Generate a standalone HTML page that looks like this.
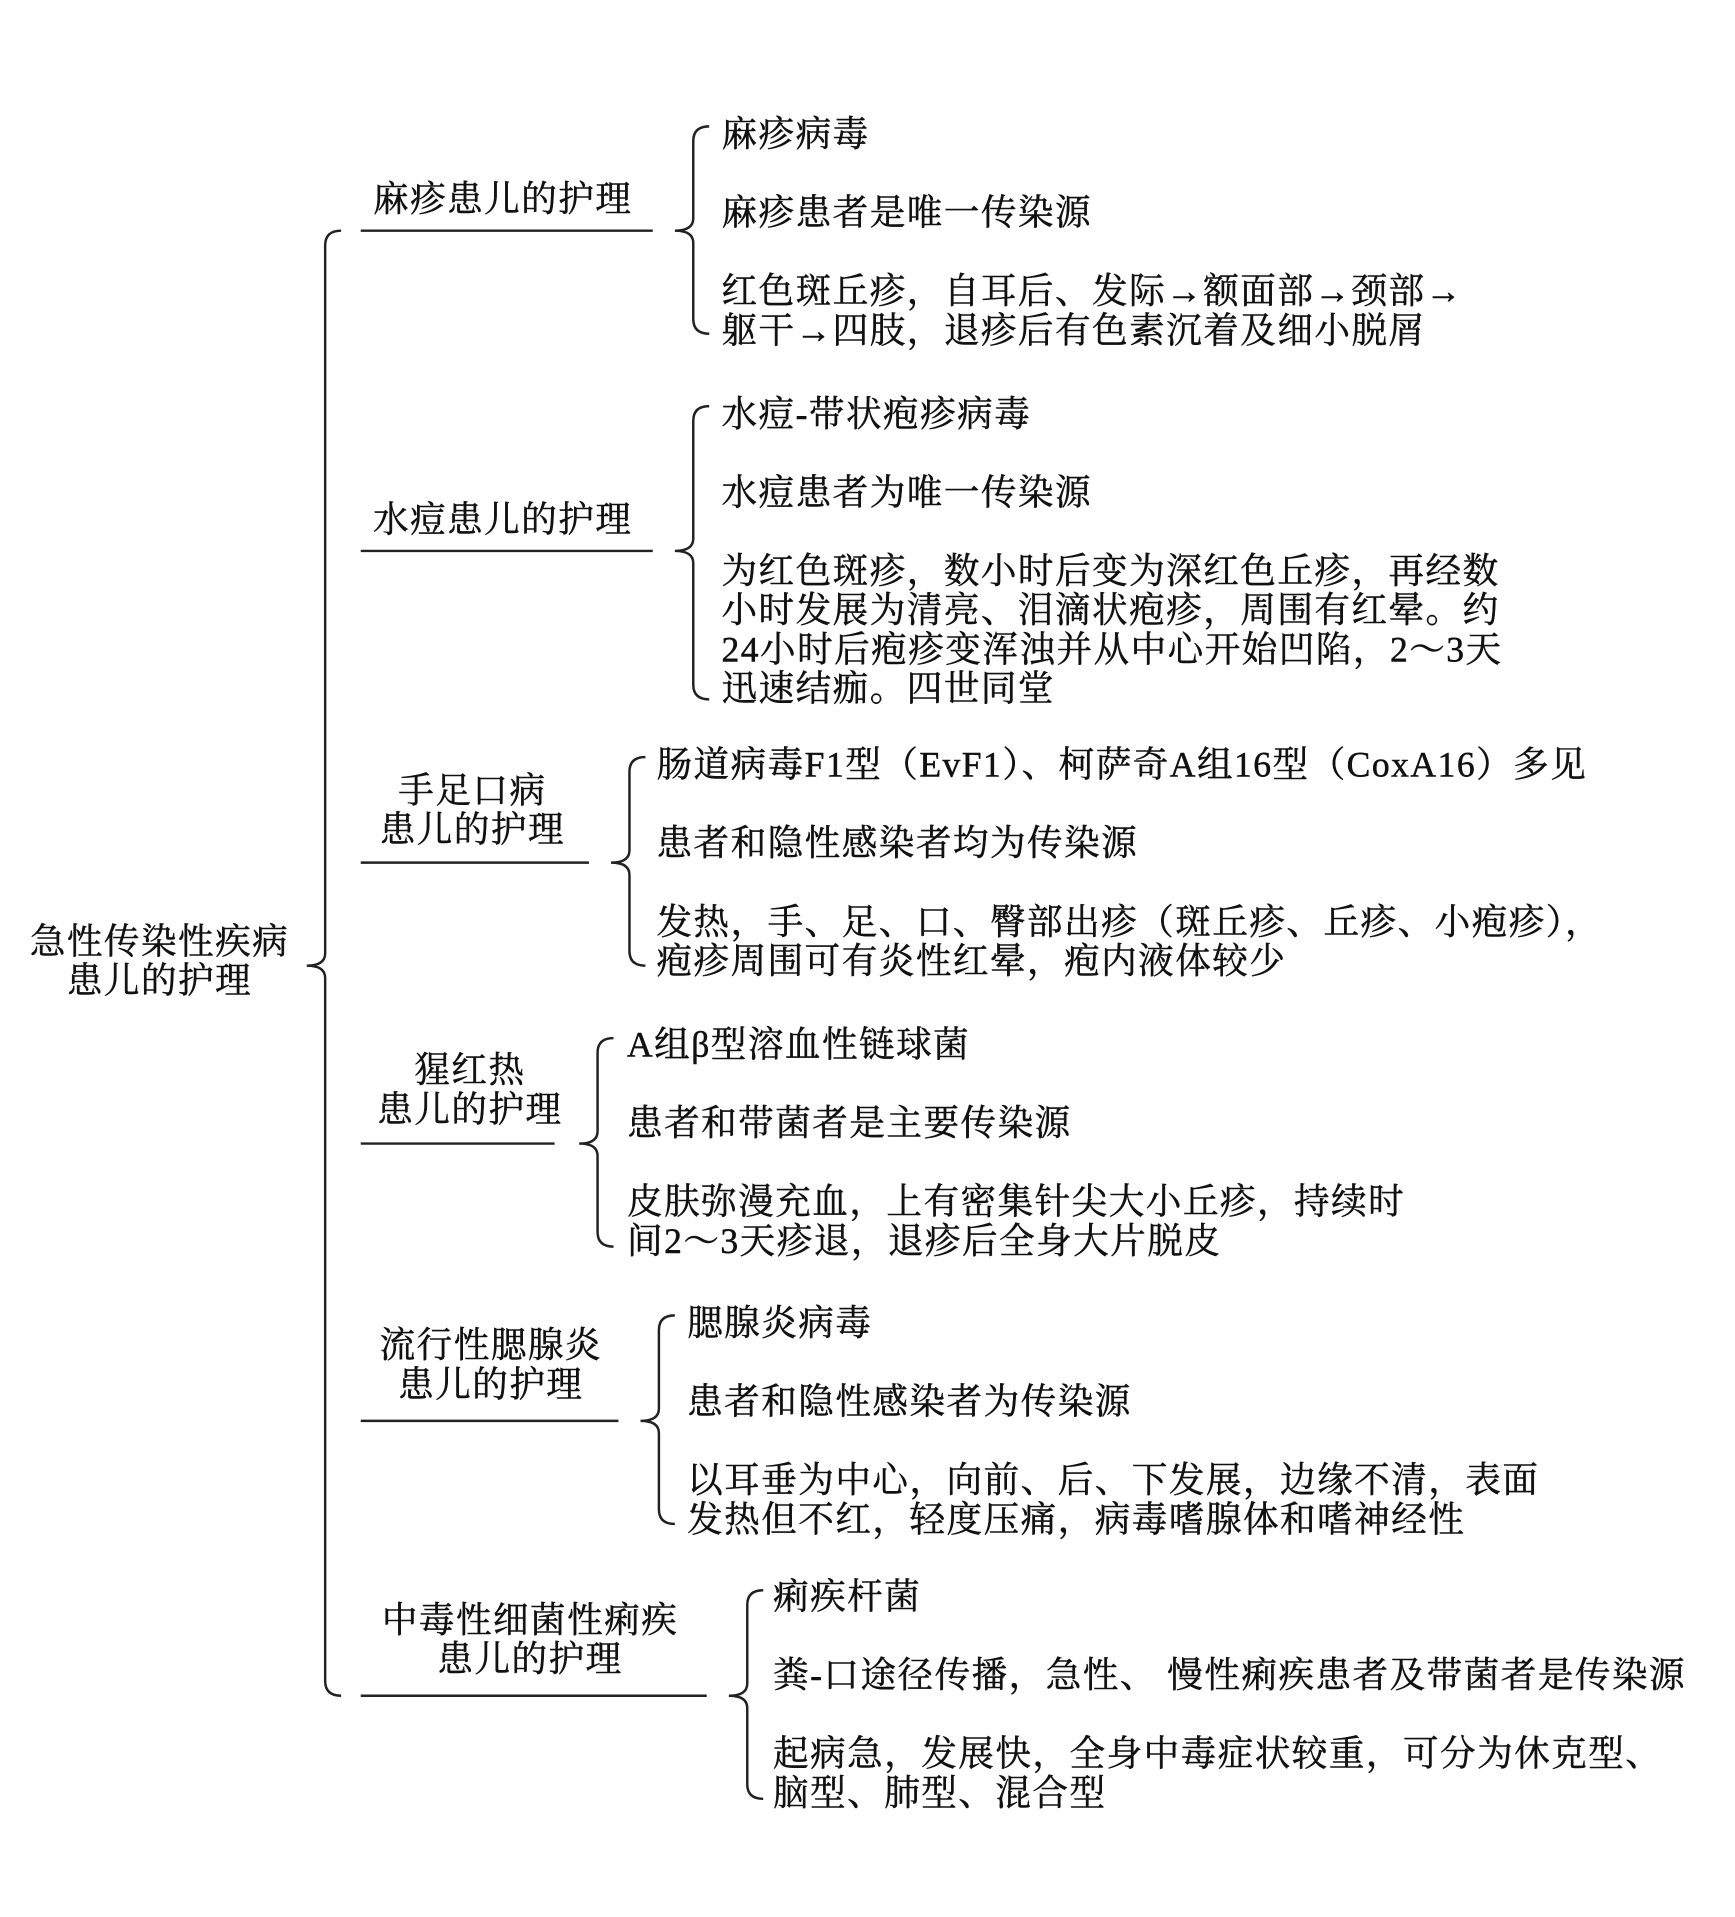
<!DOCTYPE html>
<html><head><meta charset="utf-8"><style>
html,body{margin:0;padding:0;background:#fff;}
body{width:1735px;height:1916px;overflow:hidden;position:relative;}
#w{position:absolute;left:0;top:0;width:1414px;height:1562px;transform:scale(1.22702);transform-origin:0 0;}
.t{position:absolute;font-family:"Liberation Serif","Noto Serif CJK SC",serif;font-size:29px;line-height:32px;letter-spacing:1.2px;color:#111;-webkit-text-stroke:0.4px #111;white-space:nowrap;}
.c{text-align:center;}
svg{position:absolute;left:0;top:0;}
</style></head><body><div id="w">
<svg width="1414" height="1562" fill="none" stroke="#222" stroke-width="2">
<path d="M278 188 Q265 188 265 200 L265 777 Q265 787 250 787 Q265 787 265 797 L265 1370 Q265 1382 278 1382"/>
<line x1="294" y1="188" x2="532" y2="188"/>
<line x1="294" y1="449" x2="532" y2="449"/>
<line x1="294" y1="703" x2="480" y2="703"/>
<line x1="294" y1="932" x2="452" y2="932"/>
<line x1="294" y1="1158" x2="504" y2="1158"/>
<line x1="294" y1="1382" x2="576" y2="1382"/>
<path d="M578 103 Q565 103 565 115 L565 178 Q565 188 550 188 Q565 188 565 198 L565 260 Q565 272 578 272"/>
<path d="M578 331 Q565 331 565 343 L565 439 Q565 449 550 449 Q565 449 565 459 L565 558 Q565 570 578 570"/>
<path d="M526 617 Q513 617 513 629 L513 693 Q513 703 498 703 Q513 703 513 713 L513 775 Q513 787 526 787"/>
<path d="M500 846 Q487 846 487 858 L487 922 Q487 932 472 932 Q487 932 487 942 L487 1004 Q487 1016 500 1016"/>
<path d="M550 1072 Q537 1072 537 1084 L537 1148 Q537 1158 522 1158 Q537 1158 537 1168 L537 1230 Q537 1242 550 1242"/>
<path d="M622 1296 Q609 1296 609 1308 L609 1372 Q609 1382 594 1382 Q609 1382 609 1392 L609 1454 Q609 1466 622 1466"/>
</svg>

<div class="t c" style="left:10px;width:240px;top:752px;">急性传染性疾病<br>患儿的护理</div>

<div class="t" style="left:304px;top:147px;">麻疹患儿的护理</div>
<div class="t" style="left:304px;top:408px;">水痘患儿的护理</div>
<div class="t c" style="left:285px;width:200px;top:629px;">手足口病<br>患儿的护理</div>
<div class="t c" style="left:283px;width:200px;top:857px;">猩红热<br>患儿的护理</div>
<div class="t c" style="left:290px;width:220px;top:1081px;">流行性腮腺炎<br>患儿的护理</div>
<div class="t c" style="left:292px;width:280px;top:1305px;">中毒性细菌性痢疾<br>患儿的护理</div>

<div class="t" style="left:588px;top:94px;">麻疹病毒</div>
<div class="t" style="left:588px;top:158px;">麻疹患者是唯一传染源</div>
<div class="t" style="left:588px;top:222px;">红色斑丘疹，自耳后、发际→额面部→颈部→<br>躯干→四肢，退疹后有色素沉着及细小脱屑</div>

<div class="t" style="left:588px;top:322px;">水痘-带状疱疹病毒</div>
<div class="t" style="left:588px;top:386px;">水痘患者为唯一传染源</div>
<div class="t" style="left:588px;top:450px;">为红色斑疹，数小时后变为深红色丘疹，再经数<br>小时发展为清亮、泪滴状疱疹，周围有红晕。约<br>24小时后疱疹变浑浊并从中心开始凹陷，2～3天<br>迅速结痂。四世同堂</div>

<div class="t" style="left:535px;top:608px;">肠道病毒F1型（EvF1）、柯萨奇A组16型（CoxA16）多见</div>
<div class="t" style="left:535px;top:672px;">患者和隐性感染者均为传染源</div>
<div class="t" style="left:535px;top:736px;">发热，手、足、口、臀部出疹（斑丘疹、丘疹、小疱疹），<br>疱疹周围可有炎性红晕，疱内液体较少</div>

<div class="t" style="left:511px;top:836px;">A组β型溶血性链球菌</div>
<div class="t" style="left:511px;top:900px;">患者和带菌者是主要传染源</div>
<div class="t" style="left:511px;top:964px;">皮肤弥漫充血，上有密集针尖大小丘疹，持续时<br>间2～3天疹退，退疹后全身大片脱皮</div>

<div class="t" style="left:560px;top:1063px;">腮腺炎病毒</div>
<div class="t" style="left:560px;top:1127px;">患者和隐性感染者为传染源</div>
<div class="t" style="left:560px;top:1191px;">以耳垂为中心，向前、后、下发展，边缘不清，表面<br>发热但不红，轻度压痛，病毒嗜腺体和嗜神经性</div>

<div class="t" style="left:630px;top:1286px;">痢疾杆菌</div>
<div class="t" style="left:630px;top:1350px;">粪-口途径传播，急性、 慢性痢疾患者及带菌者是传染源</div>
<div class="t" style="left:630px;top:1414px;">起病急，发展快，全身中毒症状较重，可分为休克型、<br>脑型、肺型、混合型</div>
</div></body></html>
